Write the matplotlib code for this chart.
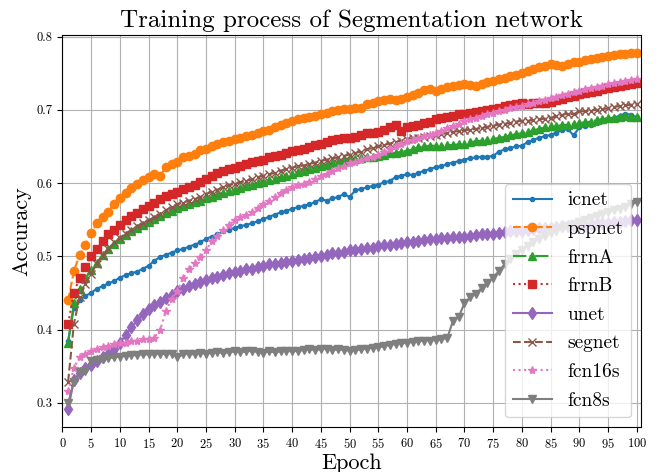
import matplotlib
matplotlib.use("Agg")
import matplotlib.pyplot as plt

plt.rcParams["font.family"] = "serif"
plt.rcParams["font.serif"] = ["cmr10"]
plt.rcParams["mathtext.fontset"] = "cm"
plt.rcParams["axes.formatter.use_mathtext"] = True

epochs = list(range(1, 101))

icnet = [0.385, 0.430, 0.440, 0.446, 0.450, 0.456, 0.459, 0.463, 0.466, 0.471,
         0.474, 0.477, 0.479, 0.483, 0.487, 0.494, 0.499, 0.502, 0.505, 0.508,
         0.510, 0.513, 0.516, 0.519, 0.524, 0.527, 0.530, 0.534, 0.536, 0.539,
         0.541, 0.543, 0.545, 0.548, 0.551, 0.554, 0.557, 0.560, 0.562, 0.565,
         0.567, 0.569, 0.571, 0.574, 0.578, 0.576, 0.579, 0.581, 0.585, 0.581,
         0.590, 0.592, 0.594, 0.596, 0.598, 0.601, 0.603, 0.608, 0.610, 0.612,
         0.611, 0.614, 0.617, 0.619, 0.622, 0.623, 0.626, 0.628, 0.630, 0.632,
         0.634, 0.635, 0.636, 0.636, 0.637, 0.643, 0.646, 0.648, 0.650, 0.651,
         0.656, 0.659, 0.662, 0.664, 0.666, 0.669, 0.672, 0.674, 0.665, 0.676,
         0.678, 0.680, 0.682, 0.685, 0.687, 0.689, 0.692, 0.695, 0.693, 0.690]

pspnet = [0.440, 0.480, 0.502, 0.516, 0.532, 0.545, 0.553, 0.561, 0.572, 0.580,
          0.587, 0.593, 0.599, 0.604, 0.608, 0.613, 0.610, 0.622, 0.626, 0.629,
          0.635, 0.637, 0.640, 0.645, 0.647, 0.651, 0.653, 0.656, 0.658, 0.660,
          0.662, 0.664, 0.666, 0.669, 0.671, 0.673, 0.676, 0.679, 0.682, 0.685,
          0.687, 0.689, 0.690, 0.692, 0.694, 0.696, 0.699, 0.700, 0.701, 0.701,
          0.702, 0.703, 0.708, 0.710, 0.712, 0.714, 0.715, 0.713, 0.715, 0.717,
          0.720, 0.723, 0.727, 0.728, 0.726, 0.729, 0.731, 0.733, 0.734, 0.735,
          0.734, 0.733, 0.736, 0.738, 0.740, 0.742, 0.744, 0.746, 0.748, 0.750,
          0.753, 0.756, 0.758, 0.760, 0.762, 0.761, 0.760, 0.763, 0.765, 0.766,
          0.768, 0.770, 0.771, 0.772, 0.773, 0.775, 0.776, 0.776, 0.777, 0.778]

frrnA = [0.382, 0.436, 0.456, 0.470, 0.481, 0.491, 0.502, 0.510, 0.517, 0.524,
         0.529, 0.534, 0.538, 0.543, 0.547, 0.551, 0.555, 0.559, 0.562, 0.566,
         0.569, 0.571, 0.574, 0.576, 0.579, 0.581, 0.584, 0.587, 0.589, 0.591,
         0.593, 0.596, 0.598, 0.600, 0.602, 0.604, 0.606, 0.608, 0.610, 0.612,
         0.615, 0.617, 0.619, 0.621, 0.623, 0.625, 0.627, 0.629, 0.631, 0.633,
         0.633, 0.634, 0.635, 0.636, 0.637, 0.639, 0.641, 0.641, 0.643, 0.644,
         0.646, 0.649, 0.650, 0.651, 0.651, 0.651, 0.652, 0.652, 0.653, 0.654,
         0.656, 0.657, 0.658, 0.659, 0.660, 0.662, 0.663, 0.665, 0.667, 0.668,
         0.670, 0.672, 0.674, 0.676, 0.678, 0.678, 0.679, 0.680, 0.681, 0.682,
         0.683, 0.684, 0.686, 0.687, 0.689, 0.689, 0.690, 0.691, 0.690, 0.690]

frrnB = [0.408, 0.450, 0.471, 0.486, 0.500, 0.510, 0.521, 0.531, 0.536, 0.543,
         0.549, 0.555, 0.559, 0.564, 0.569, 0.573, 0.578, 0.582, 0.585, 0.588,
         0.592, 0.595, 0.598, 0.601, 0.605, 0.609, 0.614, 0.617, 0.619, 0.621,
         0.623, 0.626, 0.629, 0.630, 0.631, 0.636, 0.637, 0.638, 0.641, 0.644,
         0.645, 0.647, 0.649, 0.652, 0.654, 0.656, 0.659, 0.660, 0.661, 0.662,
         0.663, 0.666, 0.668, 0.669, 0.670, 0.673, 0.676, 0.679, 0.671, 0.677,
         0.678, 0.679, 0.682, 0.684, 0.687, 0.689, 0.690, 0.692, 0.694, 0.695,
         0.696, 0.697, 0.699, 0.700, 0.701, 0.703, 0.705, 0.706, 0.708, 0.709,
         0.708, 0.709, 0.710, 0.710, 0.711, 0.713, 0.715, 0.717, 0.719, 0.721,
         0.723, 0.725, 0.726, 0.728, 0.730, 0.731, 0.733, 0.734, 0.736, 0.737]

unet = [0.291, 0.331, 0.340, 0.348, 0.352, 0.357, 0.362, 0.367, 0.373, 0.382,
        0.392, 0.403, 0.413, 0.421, 0.428, 0.434, 0.438, 0.443, 0.447, 0.452,
        0.456, 0.459, 0.462, 0.465, 0.468, 0.470, 0.472, 0.475, 0.477, 0.479,
        0.480, 0.482, 0.483, 0.485, 0.487, 0.489, 0.490, 0.491, 0.492, 0.494,
        0.495, 0.496, 0.498, 0.499, 0.501, 0.502, 0.504, 0.505, 0.506, 0.508,
        0.509, 0.510, 0.511, 0.512, 0.514, 0.515, 0.516, 0.517, 0.518, 0.519,
        0.520, 0.521, 0.522, 0.523, 0.524, 0.525, 0.525, 0.526, 0.527, 0.527,
        0.528, 0.529, 0.530, 0.530, 0.531, 0.532, 0.533, 0.534, 0.534, 0.535,
        0.536, 0.537, 0.538, 0.538, 0.539, 0.540, 0.541, 0.541, 0.542, 0.543,
        0.543, 0.544, 0.545, 0.545, 0.546, 0.547, 0.547, 0.548, 0.549, 0.549]

segnet = [0.329, 0.408, 0.444, 0.462, 0.476, 0.490, 0.501, 0.510, 0.519, 0.525,
          0.531, 0.536, 0.541, 0.545, 0.549, 0.553, 0.558, 0.563, 0.567, 0.571,
          0.573, 0.576, 0.578, 0.581, 0.585, 0.588, 0.591, 0.594, 0.597, 0.599,
          0.601, 0.603, 0.605, 0.608, 0.610, 0.612, 0.614, 0.617, 0.619, 0.621,
          0.623, 0.624, 0.626, 0.628, 0.630, 0.632, 0.634, 0.635, 0.637, 0.639,
          0.641, 0.643, 0.646, 0.648, 0.650, 0.652, 0.654, 0.656, 0.658, 0.660,
          0.661, 0.662, 0.663, 0.664, 0.665, 0.667, 0.668, 0.670, 0.671, 0.672,
          0.673, 0.674, 0.675, 0.677, 0.678, 0.680, 0.681, 0.682, 0.684, 0.685,
          0.685, 0.686, 0.687, 0.688, 0.689, 0.691, 0.693, 0.695, 0.694, 0.698,
          0.698, 0.699, 0.700, 0.701, 0.702, 0.704, 0.705, 0.706, 0.707, 0.708]

fcn16s = [0.316, 0.348, 0.362, 0.367, 0.370, 0.374, 0.376, 0.378, 0.380, 0.381,
          0.382, 0.384, 0.385, 0.387, 0.387, 0.389, 0.399, 0.425, 0.442, 0.452,
          0.470, 0.482, 0.491, 0.499, 0.508, 0.521, 0.528, 0.536, 0.543, 0.549,
          0.553, 0.557, 0.560, 0.566, 0.571, 0.576, 0.581, 0.587, 0.591, 0.594,
          0.597, 0.599, 0.602, 0.606, 0.610, 0.613, 0.617, 0.621, 0.624, 0.627,
          0.629, 0.632, 0.634, 0.636, 0.638, 0.642, 0.646, 0.650, 0.654, 0.657,
          0.659, 0.661, 0.664, 0.666, 0.668, 0.671, 0.675, 0.678, 0.681, 0.685,
          0.687, 0.689, 0.691, 0.694, 0.696, 0.698, 0.700, 0.702, 0.704, 0.705,
          0.708, 0.710, 0.712, 0.714, 0.716, 0.718, 0.720, 0.722, 0.724, 0.726,
          0.728, 0.730, 0.731, 0.733, 0.735, 0.737, 0.738, 0.740, 0.741, 0.742]

fcn8s = [0.300, 0.328, 0.342, 0.344, 0.357, 0.358, 0.360, 0.361, 0.362, 0.363,
         0.364, 0.365, 0.365, 0.366, 0.366, 0.367, 0.366, 0.367, 0.367, 0.362,
         0.366, 0.367, 0.366, 0.368, 0.367, 0.368, 0.369, 0.368, 0.369, 0.370,
         0.369, 0.370, 0.371, 0.369, 0.368, 0.370, 0.369, 0.370, 0.371, 0.370,
         0.371, 0.372, 0.373, 0.372, 0.373, 0.374, 0.372, 0.373, 0.372, 0.371,
         0.372, 0.373, 0.374, 0.375, 0.376, 0.377, 0.379, 0.380, 0.381, 0.382,
         0.383, 0.384, 0.385, 0.385, 0.386, 0.387, 0.388, 0.412, 0.417, 0.436,
         0.444, 0.449, 0.457, 0.464, 0.471, 0.480, 0.489, 0.497, 0.503, 0.509,
         0.514, 0.519, 0.524, 0.528, 0.532, 0.535, 0.538, 0.541, 0.544, 0.547,
         0.550, 0.552, 0.555, 0.558, 0.560, 0.563, 0.565, 0.568, 0.571, 0.574]

fig = plt.figure(figsize=(6.64, 4.72), dpi=100)
ax = fig.add_axes([0.094, 0.095, 0.871, 0.831])

ax.plot(epochs, icnet, "-", marker=".", label="icnet")
ax.plot(epochs, pspnet, "--", marker="o", label="pspnet")
ax.plot(epochs, frrnA, "-.", marker="^", label="frrnA")
ax.plot(epochs, frrnB, ":", marker="s", label="frrnB")
ax.plot(epochs, unet, "-", marker="d", label="unet")
ax.plot(epochs, segnet, "--", marker="x", label="segnet")
ax.plot(epochs, fcn16s, ":", marker="*", label="fcn16s")
ax.plot(epochs, fcn8s, "-", marker="v", label="fcn8s")

ax.set_xlim(0, 100.7)
ax.set_xticks(range(0, 101, 5))
ax.set_yticks([0.3, 0.4, 0.5, 0.6, 0.7, 0.8])
ax.set_yticklabels(["0.3", "0.4", "0.5", "0.6", "0.7", "0.8"])
ax.tick_params(labelsize=9)
ax.grid(True)
ax.set_xlabel("Epoch", fontsize=16, labelpad=2)
ax.set_ylabel("Accuracy", fontsize=16)
ax.set_title("Training process of Segmentation network", fontsize=18)
ax.legend(loc="lower right", fontsize=14, labelspacing=0.55)

fig.savefig("out.png", dpi=100)
